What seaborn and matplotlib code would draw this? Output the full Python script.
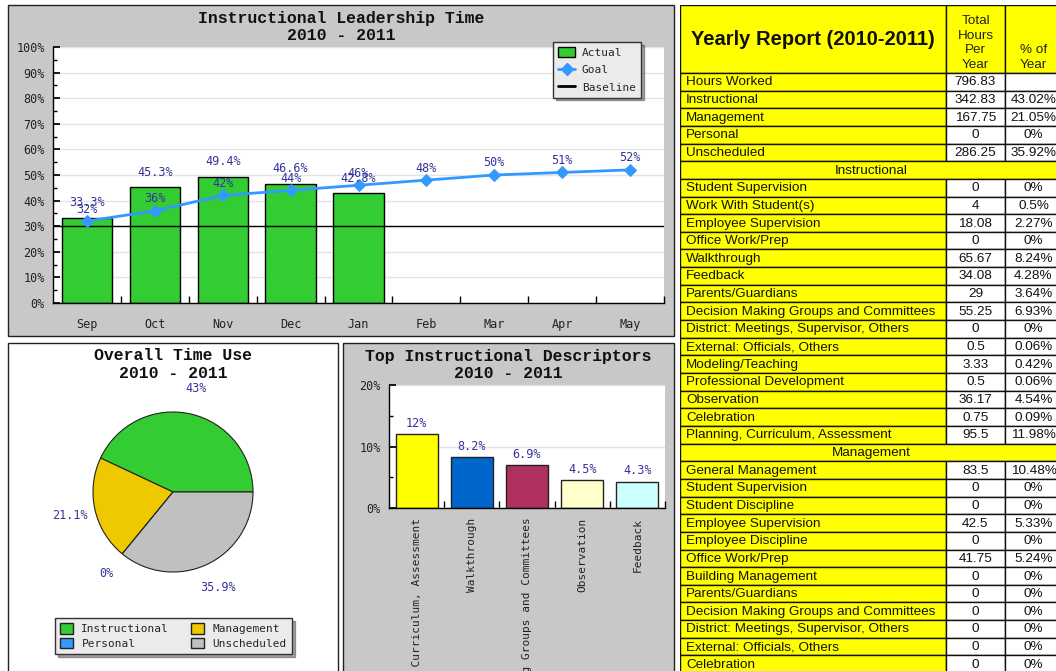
import numpy as np
import pandas as pd
import seaborn as sns
import matplotlib.pyplot as plt
from matplotlib.patches import Rectangle, Patch
from matplotlib.lines import Line2D

# 数据
months = ["Sep", "Oct", "Nov", "Dec", "Jan", "Feb", "Mar", "Apr", "May"]
actual = [33.3, 45.3, 49.4, 46.6, 42.8]
goal = [32, 36, 42, 44, 46, 48, 50, 51, 52]
baseline = 30

summary_labels = ["Hours Worked", "Instructional", "Management", "Personal", "Unscheduled"]
summary_hours = [796.83, 342.83, 167.75, 0, 286.25]
summary_pct = [None, 43.02, 21.05, 0, 35.92]

instr_labels = ["Student Supervision", "Work With Student(s)", "Employee Supervision",
                "Office Work/Prep", "Walkthrough", "Feedback", "Parents/Guardians",
                "Decision Making Groups and Committees", "District: Meetings, Supervisor, Others",
                "External: Officials, Others", "Modeling/Teaching", "Professional Development",
                "Observation", "Celebration", "Planning, Curriculum, Assessment"]
instr_hours = [0, 4, 18.08, 0, 65.67, 34.08, 29, 55.25, 0, 0.5, 3.33, 0.5, 36.17, 0.75, 95.5]
instr_pct = [0, 0.5, 2.27, 0, 8.24, 4.28, 3.64, 6.93, 0, 0.06, 0.42, 0.06, 4.54, 0.09, 11.98]

mgmt_labels = ["General Management", "Student Supervision", "Student Discipline",
               "Employee Supervision", "Employee Discipline", "Office Work/Prep",
               "Building Management", "Parents/Guardians", "Decision Making Groups and Committees",
               "District: Meetings, Supervisor, Others", "External: Officials, Others", "Celebration"]
mgmt_hours = [83.5, 0, 0, 42.5, 0, 41.75, 0, 0, 0, 0, 0, 0]
mgmt_pct = [10.48, 0, 0, 5.33, 0, 5.24, 0, 0, 0, 0, 0, 0]

pie_names = ["Instructional", "Management", "Personal", "Unscheduled"]
pie_colors = ["#33CC33", "#EEC900", "#3399FF", "#C0C0C0"]
desc_colors = ["#FFFF00", "#0066CC", "#B03060", "#FFFFCC", "#CCFFFF"]

GREEN = "#33CC33"
LINE_BLUE = "#3399FF"
LABEL_BLUE = "#333399"
PANEL = "#C8C8C8"
MONO = "DejaVu Sans Mono"
TITLE_FONT = "Liberation Mono"
SANS = "Liberation Sans"
TICK_FS = 8.5
TABLE_FS = 9.7

W, H = 1056, 671

sns.set_theme(style="white")
plt.rcParams["font.family"] = [MONO, "DejaVu Sans"]

fig = plt.figure(figsize=(W / 100, H / 100), dpi=100)


def px_axes(x0, y0, x1, y1, **kw):
    return fig.add_axes([x0 / W, 1 - y1 / H, (x1 - x0) / W, (y1 - y0) / H], **kw)


def fmt_pct(v):
    return f"{v:.1f}".rstrip("0").rstrip(".") + "%"


# 背景面板
bg = px_axes(0, 0, W, H, zorder=-10)
bg.set_xlim(0, W)
bg.set_ylim(H, 0)
bg.axis("off")
bg.add_patch(Rectangle((8, 5), 666, 331, fc=PANEL, ec="#222222", lw=1))
bg.add_patch(Rectangle((8, 343), 330, 340, fc="white", ec="#222222", lw=1))
bg.add_patch(Rectangle((343, 343), 331, 340, fc=PANEL, ec="#222222", lw=1))
for cx, cy, title in [(341, 18, "Instructional Leadership Time"), (173, 356, "Overall Time Use"),
                      (508, 356, "Top Instructional Descriptors")]:
    bg.text(cx, cy, title, ha="center", va="center", fontsize=11.9,
            family=TITLE_FONT, weight="bold", color="#111111")
    bg.text(cx, cy + 17, "2010 - 2011", ha="center", va="center", fontsize=11.9,
            family=TITLE_FONT, weight="bold", color="#111111")


def style_axis(ax, step, top):
    ax.set_facecolor("white")
    ax.set_axisbelow(True)
    for s in ["top", "right"]:
        ax.spines[s].set_visible(False)
    for s in ["left", "bottom"]:
        ax.spines[s].set_color("black")
        ax.spines[s].set_linewidth(1)
    ticks = np.arange(0, top + 1, step)
    ax.set_ylim(0, top)
    ax.set_yticks(ticks)
    ax.set_yticklabels([f"{t}%" for t in ticks], fontsize=TICK_FS, color="#222222")
    ax.set_yticks(np.arange(step / 2, top, step), minor=True)
    ax.tick_params(axis="y", which="major", direction="in", length=5, pad=6, color="black", left=True)
    ax.tick_params(axis="y", which="minor", direction="in", length=3, color="black", left=True)
    ax.grid(axis="y", which="major", color="#E4E4E4", lw=1)
    ax.set_xlabel("")
    ax.set_ylabel("")


# 上图：Instructional Leadership Time
ax1 = px_axes(53, 47, 664, 303)
sns.barplot(x=months[:len(actual)], y=actual, order=months, color=GREEN, saturation=1,
            edgecolor="black", linewidth=1, width=0.74, ax=ax1, zorder=2)
sns.lineplot(x=np.arange(len(months)), y=goal, ax=ax1, color=LINE_BLUE, lw=2,
             marker="D", markersize=6, markeredgecolor=LINE_BLUE, zorder=5)
ax1.axhline(baseline, color="black", lw=1, zorder=4)
style_axis(ax1, 10, 100)
ax1.set_xlim(-0.5, len(months) - 0.5)
ax1.set_xticks(np.arange(len(months)))
ax1.set_xticklabels(months, fontsize=TICK_FS, color="#222222")
ax1.set_xticks(np.arange(0.5, len(months), 1), minor=True)
ax1.tick_params(axis="x", which="major", length=0, pad=11)
ax1.tick_params(axis="x", which="minor", direction="in", length=5, color="black", bottom=True)
for i, v in enumerate(actual):
    ax1.annotate(fmt_pct(v), (i, v), xytext=(0, 15), textcoords="offset pixels",
                 ha="center", va="center", fontsize=TICK_FS, color=LABEL_BLUE, zorder=6)
for i, v in enumerate(goal):
    ax1.annotate(fmt_pct(v), (i, v), xytext=(0, 12), textcoords="offset pixels",
                 ha="center", va="center", fontsize=TICK_FS, color=LABEL_BLUE, zorder=6)
leg_handles = [Patch(facecolor=GREEN, edgecolor="black"),
               Line2D([], [], color=LINE_BLUE, lw=2, marker="D", markersize=6),
               Line2D([], [], color="black", lw=2)]
leg = ax1.legend(leg_handles, ["Actual", "Goal", "Baseline"], loc="upper right",
                 bbox_to_anchor=(0.962, 1.02), borderaxespad=0, fontsize=8,
                 frameon=True, fancybox=False, shadow=True, facecolor="#EBEBEB",
                 edgecolor="#333333", framealpha=1, handlelength=1.5, handleheight=1.0,
                 labelspacing=0.6, borderpad=0.45, handletextpad=0.6)
leg.set_zorder(10)

# 饼图：Overall Time Use
ax2 = px_axes(93, 412, 253, 572)
pie_vals = summary_pct[1:]
wedges, texts = ax2.pie(pie_vals, labels=[fmt_pct(v) for v in pie_vals], colors=pie_colors,
                        startangle=0, counterclock=True, labeldistance=1.32,
                        wedgeprops=dict(edgecolor="#222222", linewidth=0.8),
                        textprops=dict(color=LABEL_BLUE, fontsize=TICK_FS))
for t in texts:
    t.set_ha("center")
    t.set_va("center")
ax2.set_xlim(-1, 1)
ax2.set_ylim(-1, 1)
pie_handles = [Patch(facecolor=c, edgecolor="#222222") for c in pie_colors]
order = [0, 2, 1, 3]
fig.legend([pie_handles[i] for i in order], [pie_names[i] for i in order], ncol=2,
           loc="center", bbox_to_anchor=(173.5 / W, 1 - 636 / H), fontsize=8,
           frameon=True, fancybox=False, shadow=True, facecolor="#EBEBEB",
           edgecolor="#333333", framealpha=1, handlelength=1.1, handleheight=1.1,
           columnspacing=2.0, labelspacing=0.3, borderpad=0.45)

# 条形图：Top Instructional Descriptors
top_idx = np.argsort(-np.array(instr_pct), kind="stable")[:5]
desc = pd.DataFrame({"name": [instr_labels[i] for i in top_idx],
                     "pct": [instr_pct[i] for i in top_idx]})
ax3 = px_axes(389, 385, 665, 508)
sns.barplot(data=desc, x="name", y="pct", hue="name", palette=desc_colors, legend=False,
            saturation=1, edgecolor="#222222", linewidth=1, width=0.76, ax=ax3, zorder=2)
style_axis(ax3, 10, 20)
ax3.set_xlim(-0.5, len(desc) - 0.5)
ax3.set_xticks(np.arange(len(desc)))
ax3.set_xticklabels(desc["name"], rotation=90, fontsize=8, color="#222222")
ax3.set_xticks(np.arange(0.5, len(desc), 1), minor=True)
ax3.tick_params(axis="x", which="major", length=0, pad=7)
ax3.tick_params(axis="x", which="minor", direction="in", length=5, color="black", bottom=True)
for i, v in enumerate(desc["pct"]):
    ax3.annotate(fmt_pct(v), (i, v), xytext=(0, 11), textcoords="offset pixels",
                 ha="center", va="center", fontsize=TICK_FS, color=LABEL_BLUE)

# 右侧表格：Yearly Report
ax4 = px_axes(680, 5, 1062, 673)
ax4.set_xlim(680, 1062)
ax4.set_ylim(673, 5)
ax4.axis("off")
cols = [680, 946, 1005, 1062]
head_top, head_bot, row_h = 5, 73, 17.65
YELLOW = "#FFFF00"
EDGE = "#111111"
for j in range(3):
    ax4.add_patch(Rectangle((cols[j], head_top), cols[j + 1] - cols[j], head_bot - head_top,
                            fc=YELLOW, ec=EDGE, lw=1))
ax4.text((cols[0] + cols[1]) / 2, (head_top + head_bot) / 2 + 1, "Yearly Report (2010-2011)",
         ha="center", va="center", fontsize=14.5, weight="bold", family=SANS, color="#111111")
ax4.text((cols[1] + cols[2]) / 2, head_bot - 2, "Total\nHours\nPer\nYear", ha="center",
         va="bottom", fontsize=TABLE_FS, family=SANS, color="#222222", linespacing=1.3)
ax4.text((cols[2] + cols[3]) / 2, head_bot - 2, "% of\nYear", ha="center",
         va="bottom", fontsize=TABLE_FS, family=SANS, color="#222222", linespacing=1.3)

table_rows = [("row", l, h, p) for l, h, p in zip(summary_labels, summary_hours, summary_pct)]
table_rows += [("section", "Instructional", None, None)]
table_rows += [("row", l, h, p) for l, h, p in zip(instr_labels, instr_hours, instr_pct)]
table_rows += [("section", "Management", None, None)]
table_rows += [("row", l, h, p) for l, h, p in zip(mgmt_labels, mgmt_hours, mgmt_pct)]

for i, (kind, label, hours, pct) in enumerate(table_rows):
    top = head_bot + i * row_h
    mid = top + row_h / 2 + 0.5
    if kind == "section":
        ax4.add_patch(Rectangle((cols[0], top), cols[3] - cols[0], row_h, fc=YELLOW, ec=EDGE, lw=1))
        ax4.text((cols[0] + cols[3]) / 2, mid, label, ha="center", va="center",
                 fontsize=TABLE_FS, family=SANS, color="#111111")
        continue
    ax4.add_patch(Rectangle((cols[0], top), cols[1] - cols[0], row_h, fc=YELLOW, ec=EDGE, lw=1))
    ax4.add_patch(Rectangle((cols[1], top), cols[2] - cols[1], row_h, fc="white", ec=EDGE, lw=1))
    ax4.add_patch(Rectangle((cols[2], top), cols[3] - cols[2], row_h, fc="white", ec=EDGE, lw=1))
    ax4.text(cols[0] + 6, mid, label, ha="left", va="center", fontsize=TABLE_FS,
             family=SANS, color="#111111")
    ax4.text((cols[1] + cols[2]) / 2, mid, f"{hours:g}", ha="center", va="center",
             fontsize=TABLE_FS, family=SANS, color="#111111")
    if pct is not None:
        ax4.text((cols[2] + cols[3]) / 2, mid, f"{pct:g}%", ha="center", va="center",
                 fontsize=TABLE_FS, family=SANS, color="#111111")

fig.savefig("out.png", dpi=100)
